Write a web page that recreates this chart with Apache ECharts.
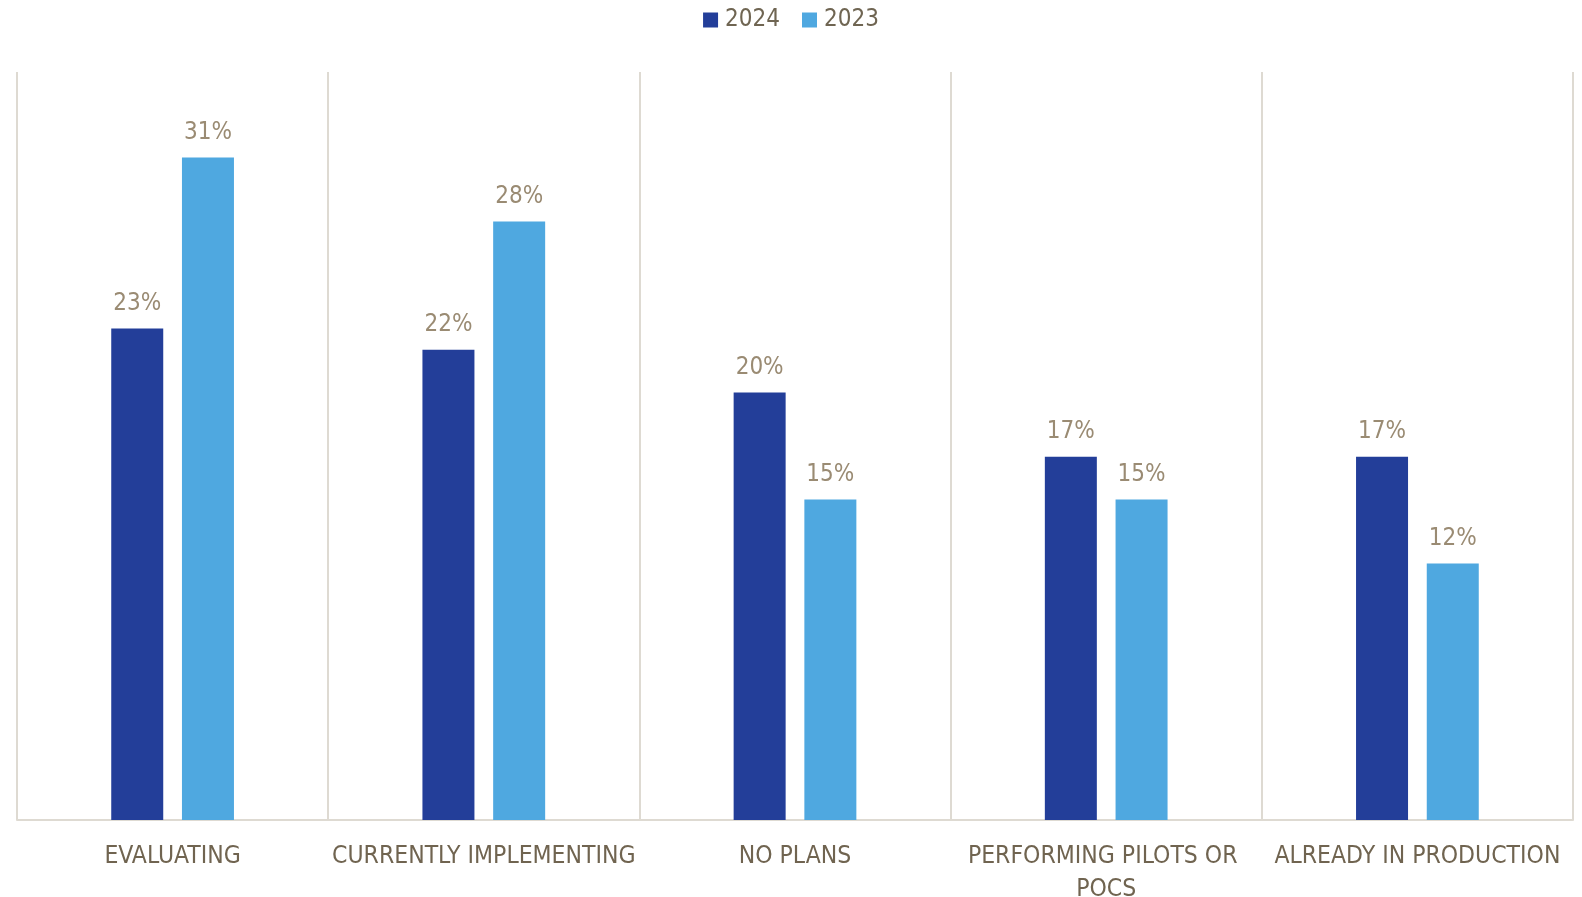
<!DOCTYPE html>
<html>
<head>
<meta charset="utf-8">
<style>
  html, body { margin: 0; padding: 0; background: #ffffff; }
  #chart { width: 1582px; height: 897px; }
</style>
<script src="https://cdn.jsdelivr.net/npm/echarts@6/dist/echarts.min.js"></script>
</head>
<body>
<div id="chart"></div>
<script>
// Adoption stage shares by survey year
const categories = ['EVALUATING', 'CURRENTLY IMPLEMENTING', 'NO PLANS', 'PERFORMING PILOTS OR POCS', 'ALREADY IN PRODUCTION'];
const seriesNames = ['2024', '2023'];
const values2024 = [23, 22, 20, 17, 17];
const values2023 = [31, 28, 15, 15, 12];

const FONT = '"Liberation Sans Narrow", "DejaVu Sans Condensed", Lato, sans-serif';
const colors = ['#233e99', '#4fa8e0'];

const chart = echarts.init(document.getElementById('chart'), null, { renderer: 'canvas' });

const barSeries = (name, data, color) => ({
  name: name,
  type: 'bar',
  data: data,
  barWidth: 52,
  barGap: '36%',
  itemStyle: { color: color },
  label: {
    show: true,
    position: 'top',
    distance: 13,
    formatter: '{c}%',
    color: '#9a8b73',
    fontFamily: FONT,
    fontSize: 24
  }
});

chart.setOption({
  animation: false,
  color: colors,
  legend: {
    top: 3,
    left: 'center',
    itemWidth: 15,
    itemHeight: 15,
    itemGap: 22,
    icon: 'rect',
    textStyle: { color: '#6f6552', fontFamily: FONT, fontSize: 24, padding: [0, 0, 0, 2] },
    data: seriesNames
  },
  grid: { left: 17, right: 9, top: 72, bottom: 77, containLabel: false, outerBoundsMode: 'none' },
  xAxis: {
    type: 'category',
    data: categories,
    axisTick: { show: false },
    axisLine: { show: true, lineStyle: { color: '#dedad2', width: 2 } },
    splitLine: { show: true, lineStyle: { color: '#dedad2', width: 2 } },
    axisLabel: {
      interval: 0,
      margin: 20,
      color: '#706450',
      fontFamily: FONT,
      fontSize: 24.5,
      lineHeight: 33,
      width: 316,
      overflow: 'break'
    }
  },
  yAxis: {
    type: 'value',
    min: 0,
    max: 35,
    show: false,
    splitLine: { show: false }
  },
  series: [
    barSeries(seriesNames[0], values2024, colors[0]),
    barSeries(seriesNames[1], values2023, colors[1])
  ]
});
</script>
</body>
</html>
